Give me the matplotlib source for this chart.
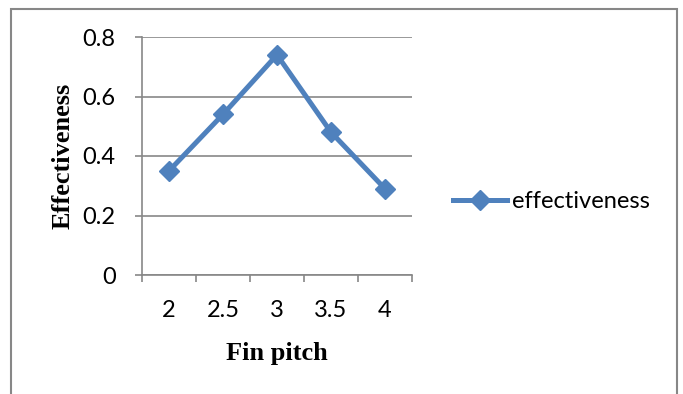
import matplotlib
matplotlib.use("Agg")
from matplotlib import pyplot as plt
from matplotlib.patches import Rectangle

# data
fin_pitch = ["2", "2.5", "3", "3.5", "4"]
effectiveness = [0.35, 0.54, 0.74, 0.48, 0.29]
y_ticks = [0, 0.2, 0.4, 0.6, 0.8]

BLUE = "#4F81BD"
GRAY = "#878787"
TICK_FONT = ["Lato", "DejaVu Sans"]
LABEL_FONT = ["Liberation Serif", "DejaVu Serif"]

fig = plt.figure(figsize=(6.83, 3.94), dpi=100)
ax = fig.add_axes([142 / 683, 1 - 275 / 394, 270 / 683, 238 / 394])

x = list(range(len(fin_pitch)))
ax.plot(x, effectiveness, color=BLUE, lw=3.6, marker="D", ms=10,
        label="effectiveness")

ax.set_xlim(-0.5, len(fin_pitch) - 0.5)
ax.set_ylim(0, 0.8)
ax.set_yticks(y_ticks)
ax.set_yticklabels(["0", "0.2", "0.4", "0.6", "0.8"])
ax.set_xticks(x)
ax.set_xticklabels(fin_pitch)
ax.set_xticks([i - 0.5 for i in range(len(fin_pitch) + 1)], minor=True)

ax.grid(axis="y", color=GRAY, lw=1.2)
ax.set_axisbelow(True)
for side in ("top", "right"):
    ax.spines[side].set_visible(False)
for side in ("left", "bottom"):
    ax.spines[side].set_color(GRAY)
    ax.spines[side].set_linewidth(1.2)

ax.tick_params(axis="y", length=5, width=1.2, color=GRAY, pad=14,
               labelsize=17)
ax.tick_params(axis="x", which="major", length=0, pad=18, labelsize=17)
ax.tick_params(axis="x", which="minor", length=5, width=1.2, color=GRAY)
for lab in ax.get_xticklabels() + ax.get_yticklabels():
    lab.set_family(TICK_FONT)

ax.set_xlabel("Fin pitch", family=LABEL_FONT, fontweight="bold",
              fontsize=19, labelpad=15)
ax.set_ylabel("Effectiveness", family=LABEL_FONT, fontweight="bold",
              fontsize=19, labelpad=6)

leg = fig.legend(loc="center left", bbox_to_anchor=(453 / 683, 1 - 202 / 394),
                 frameon=False, borderpad=0, borderaxespad=0,
                 handlelength=2.3, handletextpad=0.2,
                 prop={"family": TICK_FONT, "size": 17})

# outer chart border
fig.patches.append(Rectangle((11 / 683, -0.05), 666 / 683, 1.05 - 9 / 394,
                             transform=fig.transFigure, fill=False,
                             edgecolor=GRAY, lw=1.5))

fig.savefig("out.png", dpi=100)
